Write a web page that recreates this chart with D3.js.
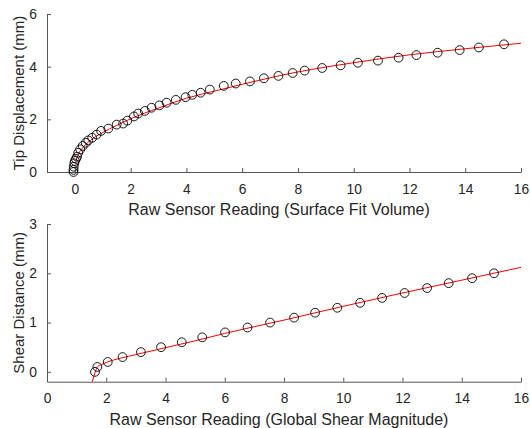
<!DOCTYPE html>
<html>
<head>
<meta charset="utf-8">
<script src="https://cdn.jsdelivr.net/npm/d3@7"></script>
<style>
  body { margin: 0; background: #fff; }
  svg { font-family: "Liberation Sans", Arial, sans-serif; }
</style>
</head>
<body>
<div id="chart"></div>
<script>
// top panel: tip displacement vs surface fit volume
const tipX = [-0.05, -0.05, -0.04, -0.02, 0.0, 0.04, 0.08, 0.12, 0.19, 0.28, 0.39, 0.48, 0.62, 0.78, 0.94, 1.2, 1.5,
  1.73, 1.88, 2.12, 2.27, 2.51, 2.75, 3.03, 3.29, 3.62, 3.97, 4.21, 4.51, 4.84, 5.34, 5.77, 6.28, 6.78, 7.3, 7.81,
  8.24, 8.87, 9.53, 10.15, 10.87, 11.61, 12.25, 13.01, 13.8, 14.49, 15.39];
const tipY = [0.0, 0.08, 0.2, 0.33, 0.42, 0.5, 0.58, 0.73, 0.86, 0.99, 1.11, 1.2, 1.3, 1.42, 1.56, 1.65, 1.8,
  1.84, 1.95, 2.11, 2.22, 2.32, 2.44, 2.53, 2.63, 2.74, 2.84, 2.93, 3.01, 3.13, 3.27, 3.36, 3.44, 3.56, 3.65, 3.76,
  3.85, 3.95, 4.05, 4.15, 4.23, 4.34, 4.44, 4.53, 4.63, 4.73, 4.85];
const tipFitX = [0.03, 0.1, 0.25, 0.5, 1, 1.5, 2, 3, 4, 5, 6, 8, 10, 12, 14, 16];
const tipFitY = [0.39, 0.62, 0.88, 1.15, 1.5, 1.77, 2.02, 2.43, 2.8, 3.07, 3.33, 3.8, 4.15, 4.45, 4.68, 4.89];

// bottom panel: shear distance vs global shear magnitude
const shearX = [1.62, 1.70, 2.05, 2.55, 3.17, 3.85, 4.55, 5.24, 6.01, 6.77, 7.53, 8.34, 9.05, 9.80, 10.57,
  11.31, 12.07, 12.83, 13.56, 14.35, 15.09];
const shearY = [0, 0.1, 0.2, 0.3, 0.4, 0.5, 0.6, 0.7, 0.8, 0.9, 1.0, 1.1, 1.2, 1.3, 1.4, 1.5, 1.6, 1.7, 1.8, 1.9, 2.0];
const shearFitX = [1.53, 1.62, 1.7, 1.85, 2.0, 2.5, 3, 4, 5, 6, 8, 10, 12, 14, 16];
const shearFitY = [-0.2, -0.02, 0.1, 0.15, 0.19, 0.28, 0.35, 0.49, 0.63, 0.78, 1.05, 1.33, 1.6, 1.86, 2.12];

const xTicks = [0, 2, 4, 6, 8, 10, 12, 14, 16];
const tipTicks = [0, 2, 4, 6];
const shearTicks = [0, 1, 2, 3];

const width = 530, height = 428;
const svg = d3.select("#chart").append("svg")
  .attr("width", width)
  .attr("height", height);

const axisColor = "#555";
const textColor = "#262626";

function panel(opts) {
  const x = d3.scaleLinear().domain(opts.xDomain).range([47, 521]);
  const y = d3.scaleLinear().domain(opts.yDomain).range([opts.bottom, opts.top]);
  const g = svg.append("g");

  // x axis, ticks pointing inward
  const xa = g.append("g")
    .attr("transform", `translate(0,${opts.bottom})`)
    .call(d3.axisBottom(x).tickValues(xTicks).tickFormat(d3.format("d"))
      .tickSizeInner(-4).tickSizeOuter(0).tickPadding(12));
  xa.select(".domain").attr("stroke", axisColor);
  xa.selectAll(".tick line").attr("stroke", axisColor);
  xa.selectAll("text").attr("fill", textColor).style("font-size", "13.8px");

  const ya = g.append("g")
    .attr("transform", "translate(47,0)")
    .call(d3.axisLeft(y).tickValues(opts.yTicks).tickFormat(d3.format("d"))
      .tickSizeInner(-4).tickSizeOuter(0).tickPadding(10));
  ya.select(".domain").attr("stroke", axisColor);
  ya.selectAll(".tick line").attr("stroke", axisColor);
  ya.selectAll("text").attr("fill", textColor).style("font-size", "13.8px");

  // fitted curve
  const line = d3.line()
    .x(d => x(d[0]))
    .y(d => y(d[1]))
    .curve(d3.curveMonotoneX);
  g.append("path")
    .datum(d3.zip(opts.fitX, opts.fitY))
    .attr("fill", "none")
    .attr("stroke", "#ff0000")
    .attr("stroke-width", 1)
    .attr("d", line);

  // measured points
  g.append("g")
    .selectAll("circle")
    .data(d3.zip(opts.ptX, opts.ptY))
    .enter().append("circle")
    .attr("cx", d => x(d[0]))
    .attr("cy", d => y(d[1]))
    .attr("r", 4.4)
    .attr("fill", "none")
    .attr("stroke", "#000")
    .attr("stroke-width", 0.9);

  g.append("text")
    .attr("x", 279)
    .attr("y", opts.xLabelY)
    .attr("text-anchor", "middle")
    .attr("fill", textColor)
    .style("font-size", "16px")
    .text(opts.xLabel);

  g.append("text")
    .attr("transform", `translate(23.5,${(opts.top + opts.bottom) / 2}) rotate(-90)`)
    .attr("text-anchor", "middle")
    .attr("fill", textColor)
    .style("font-size", "15px")
    .text(opts.yLabel);
}

panel({
  xDomain: [-1, 16], yDomain: [0, 6], yTicks: tipTicks,
  top: 14, bottom: 172,
  ptX: tipX, ptY: tipY, fitX: tipFitX, fitY: tipFitY,
  xLabel: "Raw Sensor Reading (Surface Fit Volume)", xLabelY: 215,
  yLabel: "Tip Displacement (mm)"
});

panel({
  xDomain: [0, 16], yDomain: [-0.2, 3], yTicks: shearTicks,
  top: 224, bottom: 381.7,
  ptX: shearX, ptY: shearY, fitX: shearFitX, fitY: shearFitY,
  xLabel: "Raw Sensor Reading (Global Shear Magnitude)", xLabelY: 425,
  yLabel: "Shear Distance (mm)"
});
</script>
</body>
</html>
